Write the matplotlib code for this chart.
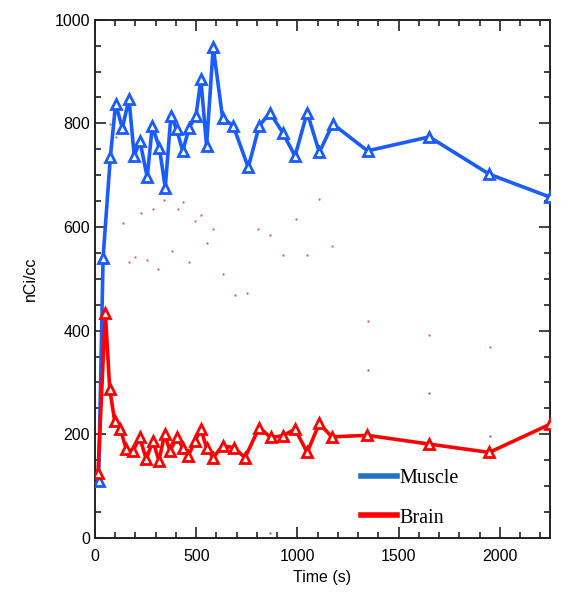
import matplotlib
matplotlib.use("Agg")
import matplotlib.pyplot as plt
from matplotlib.lines import Line2D
from matplotlib.ticker import MultipleLocator

# Muscle curve (time in s, activity in nCi/cc)
muscle_t = [18, 40, 76, 102, 135, 168, 194, 222, 258, 283, 318, 347, 375, 403,
            433, 466, 499, 523, 551, 584, 630, 683, 757, 811, 864, 927, 988,
            1048, 1108, 1174, 1346, 1651, 1947, 2245]
muscle_v = [110, 541, 735, 838, 791, 847, 737, 766, 696, 795, 753, 676, 815, 789,
            747, 792, 815, 885, 757, 947, 811, 795, 715, 795, 821, 782, 737,
            821, 744, 799, 747, 774, 702, 658]

# Brain curve
brain_t = [15, 51, 73, 97, 125, 155, 188, 221, 253, 286, 316, 344, 370, 406,
           433, 461, 494, 523, 551, 584, 630, 686, 741, 811, 868, 927, 988,
           1048, 1108, 1169, 1345, 1651, 1947, 2245]
brain_v = [126, 435, 287, 226, 210, 171, 168, 194, 152, 187, 149, 200, 168, 194,
           174, 158, 187, 210, 174, 155, 178, 174, 155, 213, 194, 197, 210,
           165, 221, 195, 198, 181, 165, 219]

# stray dots left over in the original figure
red_dot_t = [72, 105, 140, 227, 285, 342, 408, 436, 169, 198, 255, 313, 379, 466,
             495, 523, 552, 584, 634, 691, 749, 806, 864, 930, 991, 1048, 1106,
             1172, 1347, 1651, 1951, 2240]
red_dot_v = [799, 774, 608, 628, 635, 653, 635, 649, 533, 542, 537, 519, 554, 533,
             611, 623, 569, 596, 510, 469, 472, 596, 584, 546, 616, 546, 655,
             564, 419, 392, 369, 512]
blue_dot_t = [1347, 1651, 1951, 864]
blue_dot_v = [324, 279, 197, 10]

fig = plt.figure(figsize=(5.67, 5.99), dpi=100)
ax = fig.add_axes([0.1675, 0.102, 0.8025, 0.865])

ax.scatter(red_dot_t, red_dot_v, s=3, color='#e07070', linewidths=0, zorder=1)
ax.scatter(blue_dot_t, blue_dot_v, s=3, color='#6080e0', linewidths=0, zorder=1)

ax.plot(muscle_t, muscle_v, color='#1a5cff', linewidth=2.6, marker='^',
        markersize=7, markerfacecolor='white', markeredgecolor='#1a5cff',
        markeredgewidth=2.0, zorder=3)
ax.plot(brain_t, brain_v, color='#ff0000', linewidth=2.6, marker='^',
        markersize=7, markerfacecolor='white', markeredgecolor='#ff0000',
        markeredgewidth=2.0, zorder=3)

ax.set_xlim(0, 2247)
ax.set_ylim(0, 1000)
ax.xaxis.set_major_locator(MultipleLocator(500))
ax.xaxis.set_minor_locator(MultipleLocator(100))
ax.yaxis.set_major_locator(MultipleLocator(200))
ax.yaxis.set_minor_locator(MultipleLocator(50))
ax.tick_params(which='both', direction='in', top=True, right=True, width=1.2,
               colors='#222222', labelsize=11.5, labelcolor='black')
ax.tick_params(axis='x', which='major', pad=8)
ax.tick_params(which='major', length=8)
ax.tick_params(which='minor', length=4)
for lab in ax.get_xticklabels() + ax.get_yticklabels():
    lab.set_fontfamily('Liberation Sans')
for sp in ax.spines.values():
    sp.set_linewidth(1.4)
    sp.set_color('#222222')

ax.set_xlabel("Time (s)", fontsize=11.5, family='Liberation Sans', labelpad=4)
ax.set_ylabel("nCi/cc", fontsize=11.5, family='Liberation Sans', labelpad=12)

handles = [Line2D([0], [0], color='#2272c8', linewidth=4),
           Line2D([0], [0], color='#ff0000', linewidth=4)]
ax.legend(handles, ['Muscle', 'Brain'], loc='upper left',
          bbox_to_anchor=(0.562, 0.152), frameon=False, handlelength=1.8,
          handletextpad=0.1, labelspacing=1.0, borderpad=0,
          prop={'family': 'Liberation Serif', 'size': 14.5})

plt.savefig('out.png', dpi=100)
